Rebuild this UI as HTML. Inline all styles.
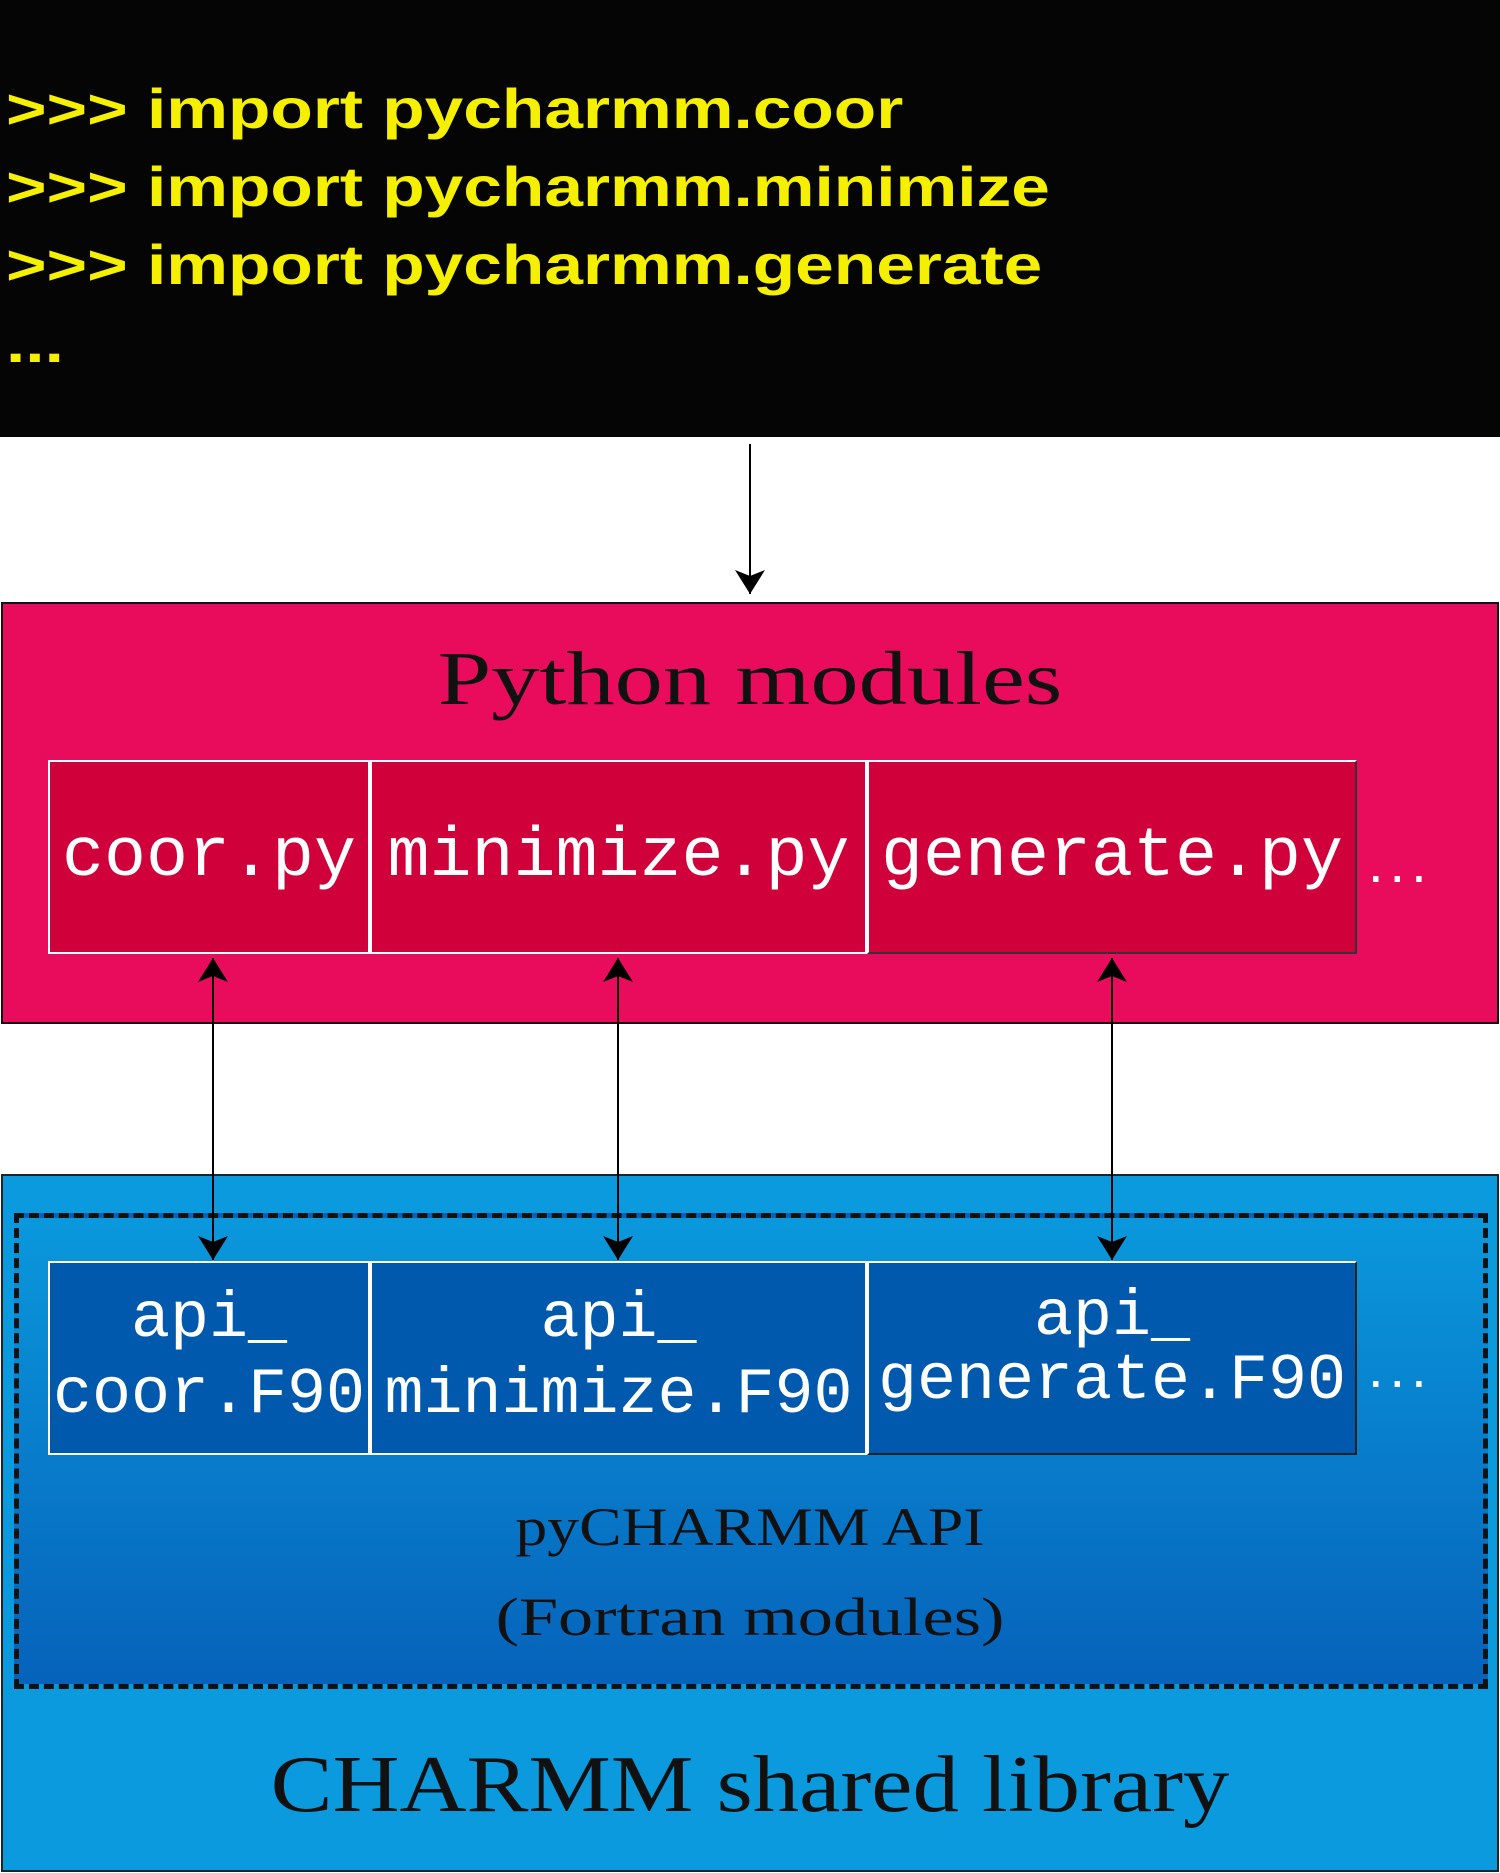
<!DOCTYPE html>
<html><head><style>
body{margin:0;width:1500px;height:1873px;background:#fff;position:relative;overflow:hidden;font-family:"Liberation Sans",sans-serif}
div{position:absolute;box-sizing:border-box}
.t{white-space:nowrap}
.py{top:760px;height:194px;background:#cf003a;border:2px solid #fff;color:#fff;font-family:"Liberation Mono",monospace;font-size:70px;display:flex;align-items:center;justify-content:center}
.api{top:1261px;height:194px;background:#0059ad;border:2px solid #fff;color:#fff;font-family:"Liberation Mono",monospace;font-size:65px;line-height:76px;text-align:center;padding-top:18px;white-space:nowrap}
.c{transform-origin:750px 0}
</style></head><body>
<div style="left:0;top:0;width:1500px;height:437px;background:#050505"></div>
<div class="t" style="left:6px;top:70px;color:#f5f000;font-size:56px;font-weight:bold;line-height:78px;transform:scaleX(1.24);transform-origin:0 0">&gt;&gt;&gt; import pycharmm.coor<br>&gt;&gt;&gt; import pycharmm.minimize<br>&gt;&gt;&gt; import pycharmm.generate<br>...</div>
<div style="left:1px;top:602px;width:1498px;height:422px;background:#e90c5c;border:2px solid #111"></div>
<div class="t c" style="left:0;width:1500px;top:636px;text-align:center;font-family:'Liberation Serif',serif;font-size:76px;color:#111;transform:scaleX(1.27)">Python modules</div>
<div class="py" style="left:48px;width:322px">coor.py</div>
<div class="py" style="left:370px;width:497px">minimize.py</div>
<div class="py" style="left:867px;width:490px;border-right-color:#333;border-bottom-color:#333">generate.py</div>
<div class="t" style="left:1368px;top:830px;color:#fff;font-size:56px;letter-spacing:6px">...</div>
<div style="left:1px;top:1174px;width:1498px;height:698px;background:#0b9ade;border:2px solid #222"></div>
<div style="left:14px;top:1213px;width:1474px;height:476px;background:linear-gradient(#0a98dc,#0662ba);border:5px dashed #111"></div>
<div class="api" style="left:48px;width:322px">api_<br>coor.F90</div>
<div class="api" style="left:370px;width:497px">api_<br>minimize.F90</div>
<div class="api" style="left:867px;width:490px;padding-top:22px;line-height:64px;border-right-color:#222;border-bottom-color:#222">api_<br>generate.F90</div>
<div class="t" style="left:1368px;top:1335px;color:#fff;font-size:56px;letter-spacing:6px">...</div>
<div class="t c" style="left:0;width:1500px;top:1482px;text-align:center;font-family:'Liberation Serif',serif;font-size:54px;line-height:90px;color:#111;transform:scaleX(1.18)">pyCHARMM API</div>
<div class="t c" style="left:0;width:1500px;top:1572px;text-align:center;font-family:'Liberation Serif',serif;font-size:54px;line-height:90px;color:#111;transform:scaleX(1.3)">(Fortran modules)</div>
<div class="t c" style="left:0;width:1500px;top:1740px;text-align:center;font-family:'Liberation Serif',serif;font-size:80px;color:#111;transform:scaleX(1.16)">CHARMM shared library</div>
<svg style="position:absolute;left:0;top:0" width="1500" height="1873">
<defs>
<marker id="b" markerWidth="24" markerHeight="30" refX="24" refY="15" orient="auto-start-reverse" markerUnits="userSpaceOnUse" viewBox="0 0 24 30"><path d="M0,0 L24,15 L0,30 L6,15z" fill="#000"/></marker></defs>
<line x1="750" y1="444" x2="750" y2="594" stroke="#000" stroke-width="2" marker-end="url(#b)"/>
<line x1="213" y1="958" x2="213" y2="1260" stroke="#000" stroke-width="2" marker-start="url(#b)" marker-end="url(#b)"/>
<line x1="618" y1="958" x2="618" y2="1260" stroke="#000" stroke-width="2" marker-start="url(#b)" marker-end="url(#b)"/>
<line x1="1112" y1="958" x2="1112" y2="1260" stroke="#000" stroke-width="2" marker-start="url(#b)" marker-end="url(#b)"/>
</svg>
</body></html>
